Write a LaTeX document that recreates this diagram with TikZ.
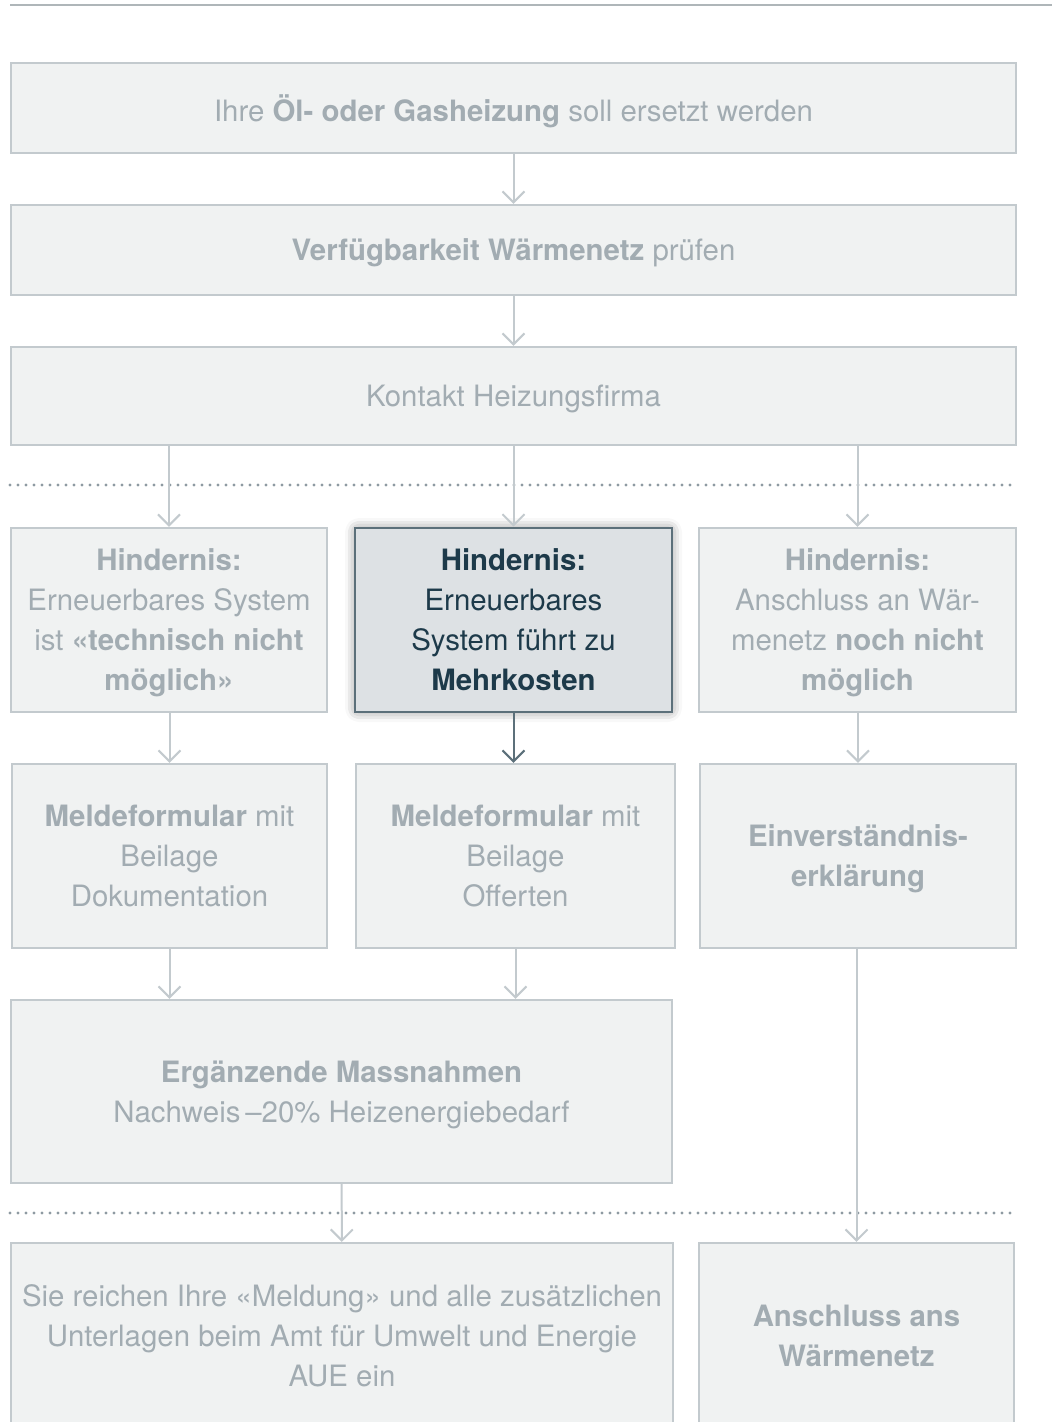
\documentclass[tikz,border=0pt]{standalone}
\usepackage{fontspec}
\setmainfont{TeX Gyre Heros}
\usetikzlibrary{arrows.meta,shadows.blur}
\definecolor{boxfill}{HTML}{F0F2F2}
\definecolor{boxline}{HTML}{C3CACE}
\definecolor{boxtext}{HTML}{A2ACB2}
\definecolor{hotfill}{HTML}{DDE1E4}
\definecolor{hotline}{HTML}{5C707A}
\definecolor{hottext}{HTML}{1D3A4A}
\definecolor{dotgray}{HTML}{8E9AA2}
\begin{document}
\begin{tikzpicture}[x=0.5pt,y=-0.5pt,
  box/.style={draw=boxline, fill=boxfill, line width=1.2pt, text=boxtext,
    align=center, inner sep=0pt, font=\fontsize{14.7}{20}\selectfont,
    text depth=0pt},
  hotbox/.style={box, draw=hotline, fill=hotfill, text=hottext, line width=1.4pt,
    blur shadow={shadow xshift=0pt, shadow yshift=0pt, shadow blur radius=5pt,
      shadow blur extra rounding=2pt, shadow opacity=45}},
  flow/.style={draw=boxline, line width=1pt,
    -{Straight Barb[length=5.5pt,width=11pt,line width=1pt]}},
  hotflow/.style={flow, draw=hotline},
  sep/.style={draw=dotgray, line width=1.7pt, line cap=round,
    dash pattern=on 0pt off 4pt}]
  \useasboundingbox (0,0) rectangle (1052,1422);
  \clip (0,0) rectangle (1052,1422);
  % Kopflinie
  \draw[draw=boxline!90!black, line width=1pt] (10,5) -- (1052,5);
  % Trennlinien (gepunktet)
  \draw[sep] (10,485) -- (1016,485);
  \draw[sep] (10,1213) -- (1016,1213);
  % obere Kette
  \node[box, minimum width=502.5pt, minimum height=45pt] (oel) at (513.5,108)
    {Ihre \textbf{Öl- oder Gasheizung} soll ersetzt werden};
  \node[box, minimum width=502.5pt, minimum height=45pt] (netz) at (513.5,250)
    {\textbf{Verfügbarkeit Wärmenetz} prüfen};
  \node[box, minimum width=502.5pt, minimum height=49pt] (kontakt) at (513.5,396)
    {Kontakt Heizungsfirma};
  % Hindernisse
  \node[box, minimum width=158pt, minimum height=92pt] (hind1) at (169,620)
    {\textbf{Hindernis:}\\Erneuerbares System\\ist \textbf{«technisch nicht}\\\textbf{möglich»}};
  \node[hotbox, minimum width=158.5pt, minimum height=92pt] (hind2) at (513.5,620)
    {\textbf{Hindernis:}\\Erneuerbares\\System führt zu\\\textbf{Mehrkosten}};
  \node[box, minimum width=158.5pt, minimum height=92pt] (hind3) at (857.5,620)
    {\textbf{Hindernis:}\\Anschluss an Wär-\\menetz \textbf{noch nicht}\\\textbf{möglich}};
  % Meldungen
  \node[box, minimum width=157.5pt, minimum height=92pt] (meld1) at (169.5,856)
    {\textbf{Meldeformular} mit\\Beilage\\Dokumentation};
  \node[box, minimum width=159.5pt, minimum height=92pt] (meld2) at (515.5,856)
    {\textbf{Meldeformular} mit\\Beilage\\Offerten};
  \node[box, minimum width=158pt, minimum height=92pt] (einv) at (858,856)
    {\textbf{Einverständnis-}\\\textbf{erklärung}};
  \node[box, minimum width=330.5pt, minimum height=91.5pt] (ergz) at (341.5,1091.5)
    {\textbf{Ergänzende Massnahmen}\\Nachweis\,–20\% Heizenergiebedarf};
  % Abschluss (unten angeschnitten)
  \node[box, minimum width=331pt, minimum height=93pt] (meldung) at (342,1336)
    {Sie reichen Ihre «Meldung» und alle zusätzlichen\\Unterlagen beim Amt für Umwelt und Energie\\AUE ein};
  \node[box, minimum width=157.5pt, minimum height=93pt] (anschluss) at (856.5,1336)
    {\textbf{Anschluss ans}\\\textbf{Wärmenetz}};
  % Pfeile
  \draw[flow] (oel) -- (netz);
  \draw[flow] (netz) -- (kontakt);
  \draw[flow] (kontakt.south -| hind1.north) -- (hind1.north);
  \draw[flow] (kontakt) -- (hind2);
  \draw[flow] (kontakt.south -| hind3.north) -- (hind3.north);
  \draw[flow] (hind1.south -| meld1.north) -- (meld1.north);
  \draw[hotflow] (hind2) -- (hind2.south |- meld2.north);
  \draw[flow] (hind3.south -| einv.north) -- (einv.north);
  \draw[flow] (meld1.south) -- (meld1.south |- ergz.north);
  \draw[flow] (meld2.south) -- (meld2.south |- ergz.north);
  \draw[flow] (ergz) -- (meldung);
  \draw[flow] (einv.south -| anschluss.north) -- (anschluss.north);
\end{tikzpicture}
\end{document}
